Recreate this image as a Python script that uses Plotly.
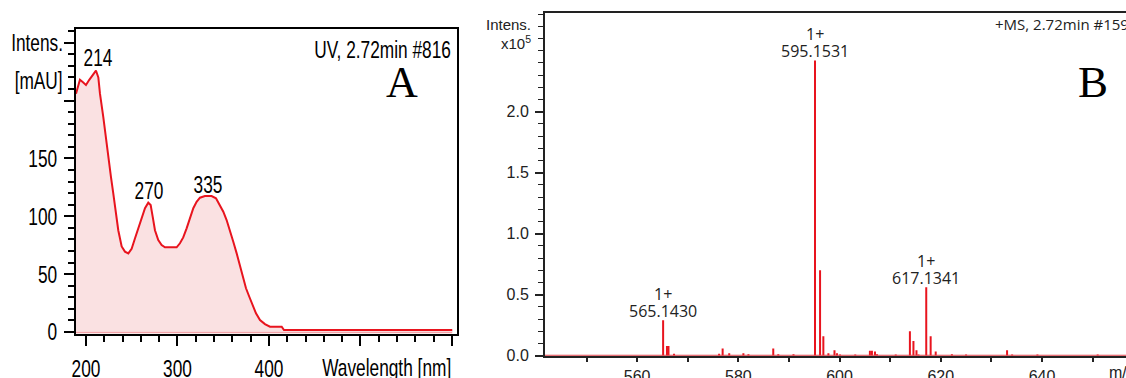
import plotly.graph_objects as go

W, H = 1126, 378

# ---------------- Panel A data (UV spectrum) ----------------
wavelength = [189.1, 193.4, 196.4, 200.0, 203.6, 207.3, 210.9, 213.5, 215.3, 218.9, 221.9, 224.4,
              227.3, 229.8, 231.7, 235.3, 239.0, 242.6, 246.3, 249.9, 253.6, 257.2, 260.9, 264.5,
              268.1, 270.7, 272.9, 275.4, 279.0, 282.7, 286.3, 299.1, 302.7, 306.3, 310.0, 313.7,
              317.3, 320.9, 324.6, 330.0, 337.3, 342.1, 346.4, 350.1, 353.7, 357.4, 361.0, 364.7,
              367.5, 371.2, 374.9, 378.5, 382.2, 385.8, 390.2, 395.6, 401.1, 413.9, 416.4, 600.3]
absorbance = [206, 218, 216, 213.5, 218, 222, 226, 220, 206, 186, 166, 154,
              134, 120, 108, 88, 74, 69.5, 68, 72, 81, 89.6, 99.7, 107,
              111.8, 109.8, 99.7, 88, 79.5, 75.2, 73.2, 73.2, 76.7, 81.8, 89.6, 98.3,
              107, 112.6, 116.1, 117.5, 117.5, 115.6, 109.8, 104, 96.8, 88, 78, 68,
              59.4, 47.8, 37.8, 30.5, 23.3, 16.2, 10.4, 6.9, 4.6, 4.6, 1.7, 1.7]
uv_peak_labels = ["214", "270", "335"]
uv_peak_x = [213.0, 268.9, 333.3]
uv_peak_y = [237.7, 121.9, 127.9]
uv_yticks = [0, 50, 100, 150, 200, 250]
uv_yticktext = ["0", "50", "100", "150", " ", " "]
uv_xticks = [200, 300, 400, 500, 600]
uv_xticktext = ["200", "300", "400", " ", " "]

# ---------------- Panel B data (MS spectrum, x10^5) ----------------
mz = [565.14, 565.9, 566.2, 567.3, 576.2, 576.9, 578.2, 581.0, 582.0, 586.9, 587.9, 590.9,
      595.15, 596.15, 596.8, 597.8, 599.0, 599.5, 600.1, 603.1, 606.0, 606.4, 607.0, 607.4,
      611.1, 613.9, 614.6, 615.2, 615.6, 617.13, 618.0, 619.0, 622.2, 625.0, 633.1, 634.1,
      639.1, 651.0]
intensity = [0.29, 0.08, 0.08, 0.015, 0.015, 0.06, 0.02, 0.02, 0.012, 0.06, 0.012, 0.012,
             2.42, 0.70, 0.16, 0.02, 0.045, 0.02, 0.01, 0.01, 0.04, 0.04, 0.035, 0.012,
             0.01, 0.20, 0.12, 0.045, 0.01, 0.56, 0.16, 0.035, 0.012, 0.01, 0.045, 0.01,
             0.01, 0.01]
ms_label_mz = [565.14, 595.15, 617.13]
ms_label_text = ["565.1430", "595.1531", "617.1341"]
ms_label_charge = ["1+", "1+", "1+"]
ms_label_h = [0.29, 2.42, 0.56]
ms_yticks = [0.0, 0.5, 1.0, 1.5, 2.0]
ms_yticktext = ["0.0", "0.5", "1.0", "1.5", "2.0"]
ms_xticks = [560, 580, 600, 620, 640]

RED = "#e8141e"
# condensed look: Liberation Sans squeezed horizontally by a small script after drawing
NR = "Liberation Sans, NarrowR"
NC = "Liberation Sans, NarrowC"
ARIAL = "Liberation Sans, Arial, sans-serif"
SERIF = "Liberation Serif, Times New Roman, serif"
LABF = "Open Sans, sans-serif"
ASZ = 24

def px(x):
    return x / W

def py(y):
    return 1 - y / H

fig = go.Figure()

# Panel A
fig.add_trace(go.Scatter(x=[wavelength[0], wavelength[-1]], y=[0, 0], mode="lines",
                         line=dict(color="#f3a3a8", width=2.5), xaxis="x", yaxis="y",
                         hoverinfo="skip", showlegend=False))
fig.add_trace(go.Scatter(x=wavelength, y=absorbance, mode="lines", fill="tozeroy",
                         fillcolor="rgba(250,222,223,0.9)", line=dict(color=RED, width=2),
                         xaxis="x", yaxis="y", showlegend=False))

# Panel B stems
sx, sy = [], []
for m, h in zip(mz, intensity):
    sx += [m, m, None]
    sy += [0, h, None]
fig.add_trace(go.Scatter(x=sx, y=sy, mode="lines", line=dict(color=RED, width=2),
                         xaxis="x2", yaxis="y2", showlegend=False))

axA_y0, axA_y1 = py(334), py(29)
axB_y0, axB_y1 = py(355.7), py(13.3)

fig.update_layout(
    template="none", hovermode=False,
    width=W, height=H, margin=dict(l=0, r=0, t=0, b=0, pad=0), autosize=False,
    paper_bgcolor="white", plot_bgcolor="white", showlegend=False,
    xaxis=dict(domain=[px(76), px(457)], range=[189.1, 605.5], anchor="y", automargin=False,
               showline=True, linewidth=2, linecolor="black", mirror=True,
               showgrid=False, zeroline=False,
               tickmode="array", tickvals=uv_xticks, ticktext=uv_xticktext,
               ticks="outside", ticklen=10, tickwidth=2, tickcolor="black",
               ticklabelstandoff=2,
               minor=dict(dtick=20, tick0=200, ticks="outside", ticklen=6, tickwidth=1.5,
                          tickcolor="black", showgrid=False),
               tickfont=dict(family=NC, size=ASZ, color="black")),
    yaxis=dict(domain=[axA_y0, axA_y1], range=[-1.7, 261.9], anchor="x", automargin=False,
               showline=True, linewidth=2, linecolor="black", mirror=True,
               showgrid=False, zeroline=False,
               tickmode="array", tickvals=uv_yticks, ticktext=uv_yticktext,
               ticks="outside", ticklen=10, tickwidth=2, tickcolor="black",
               ticklabelstandoff=2,
               minor=dict(dtick=10, tick0=0, ticks="outside", ticklen=6, tickwidth=1.5,
                          tickcolor="black", showgrid=False),
               tickfont=dict(family=NR, size=ASZ, color="black")),
    xaxis2=dict(domain=[px(545), 1.0], range=[541.8, 656.6], anchor="y2", automargin=False,
                showline=True, linewidth=1.5, linecolor="#222", mirror=True,
                showgrid=False, zeroline=False,
                tickmode="array", tickvals=ms_xticks,
                ticks="outside", ticklen=5, tickwidth=1.5, tickcolor="#222",
                ticklabelstandoff=0,
                minor=dict(dtick=10, tick0=550, ticks="outside", ticklen=5, tickwidth=1.5,
                           tickcolor="#222", showgrid=False),
                tickfont=dict(family=ARIAL, size=16, color="#222")),
    yaxis2=dict(domain=[axB_y0, axB_y1], range=[0, 2.806], anchor="x2", automargin=False,
                showline=True, linewidth=2, linecolor="#222", mirror=False,
                showgrid=False, zeroline=False,
                tickmode="array", tickvals=ms_yticks, ticktext=ms_yticktext,
                ticks="outside", ticklen=8, tickwidth=1.5, tickcolor="#222",
                ticklabelstandoff=3,
                minor=dict(dtick=0.1, tick0=0, ticks="outside", ticklen=5, tickwidth=1.2,
                           tickcolor="#222", showgrid=False),
                tickfont=dict(family=ARIAL, size=16, color="#222")),
)

# red baseline of MS panel
fig.add_shape(type="line", xref="x2 domain", yref="y2", x0=0, x1=1, y0=0, y1=0,
              line=dict(color="#e0404a", width=2))

ann = []
# Panel A texts
for t, x, y in zip(uv_peak_labels, uv_peak_x, uv_peak_y):
    ann.append(dict(text=t, x=x, y=y, xref="x", yref="y", showarrow=False,
                    font=dict(family=NC, size=ASZ, color="black"),
                    xanchor="center", yanchor="middle"))
ann.append(dict(text="UV, 2.72min #816", x=px(453), y=py(49), xref="paper", yref="paper",
                showarrow=False, xanchor="right", yanchor="middle",
                font=dict(family=NR, size=ASZ, color="black")))
ann.append(dict(text="A", x=px(402), y=py(83), xref="paper", yref="paper", showarrow=False,
                xanchor="center", yanchor="middle",
                font=dict(family=SERIF, size=44, color="black")))
ann.append(dict(text="Intens.", x=px(65), y=py(42), xref="paper", yref="paper", showarrow=False,
                xanchor="right", yanchor="middle",
                font=dict(family=NR, size=ASZ, color="black")))
ann.append(dict(text="[mAU]", x=px(65), y=py(80), xref="paper", yref="paper", showarrow=False,
                xanchor="right", yanchor="middle",
                font=dict(family=NR, size=ASZ, color="black")))
ann.append(dict(text="Wavelength [nm]", x=px(453), y=py(367), xref="paper", yref="paper",
                showarrow=False, xanchor="right", yanchor="middle",
                font=dict(family=NR, size=ASZ, color="black")))

# Panel B texts
for m, t, c, h in zip(ms_label_mz, ms_label_text, ms_label_charge, ms_label_h):
    ann.append(dict(text=t, x=m, y=h, xref="x2", yref="y2", showarrow=False,
                    xanchor="center", yanchor="middle", yshift=9,
                    font=dict(family=LABF, size=16, color="#222")))
    ann.append(dict(text=c, x=m, y=h, xref="x2", yref="y2", showarrow=False,
                    xanchor="center", yanchor="middle", yshift=26,
                    font=dict(family=LABF, size=16, color="#222")))
ann.append(dict(text="+MS, 2.72min #1597", x=px(993), y=py(24), xref="paper", yref="paper",
                showarrow=False, xanchor="left", yanchor="middle",
                font=dict(family=LABF, size=15, color="#222")))
ann.append(dict(text="B", x=px(1093), y=py(82), xref="paper", yref="paper", showarrow=False,
                xanchor="center", yanchor="middle",
                font=dict(family=SERIF, size=45, color="black")))
ann.append(dict(text="Intens.", x=px(533), y=py(24), xref="paper", yref="paper",
                showarrow=False, xanchor="right", yanchor="middle",
                font=dict(family=ARIAL, size=15, color="#222")))
ann.append(dict(text="x10<sup>5</sup>", x=px(533), y=py(42), xref="paper", yref="paper",
                showarrow=False, xanchor="right", yanchor="middle",
                font=dict(family=ARIAL, size=15, color="#222")))
ann.append(dict(text="m/z", x=px(1107), y=py(372), xref="paper", yref="paper",
                showarrow=False, xanchor="left", yanchor="middle",
                font=dict(family=ARIAL, size=16, color="#222")))
fig.update_layout(annotations=ann)

post = """
(function(){
  document.documentElement.style.margin = '0';
  document.documentElement.style.padding = '0';
  document.body.style.margin = '0';
  document.body.style.padding = '0';
  document.body.style.overflow = 'hidden';
  var gd = document.getElementById('{plot_id}');
  function squeeze(){
    var texts = gd.querySelectorAll('text');
    texts.forEach(function(t){
      var ff = t.style.fontFamily || t.getAttribute('font-family') || '';
      var m = ff.match(/Narrow([LCR])/);
      if(!m) return;
      var tr = t.getAttribute('transform') || '';
      if(tr.indexOf('scale(0.72,1)') >= 0) return;
      var bb = t.getBBox();
      if(!bb || bb.width === 0) return;
      var cx = m[1]==='L' ? bb.x : (m[1]==='R' ? bb.x + bb.width : bb.x + bb.width/2);
      t.setAttribute('transform', tr + ' translate(' + cx + ',0) scale(0.72,1) translate(' + (-cx) + ',0)');
    });
  }
  squeeze();
  if (gd.on) { gd.on('plotly_afterplot', squeeze); }
})();
"""

fig.write_html("out.html", post_script=post,
               config={"displayModeBar": False, "displaylogo": False})
